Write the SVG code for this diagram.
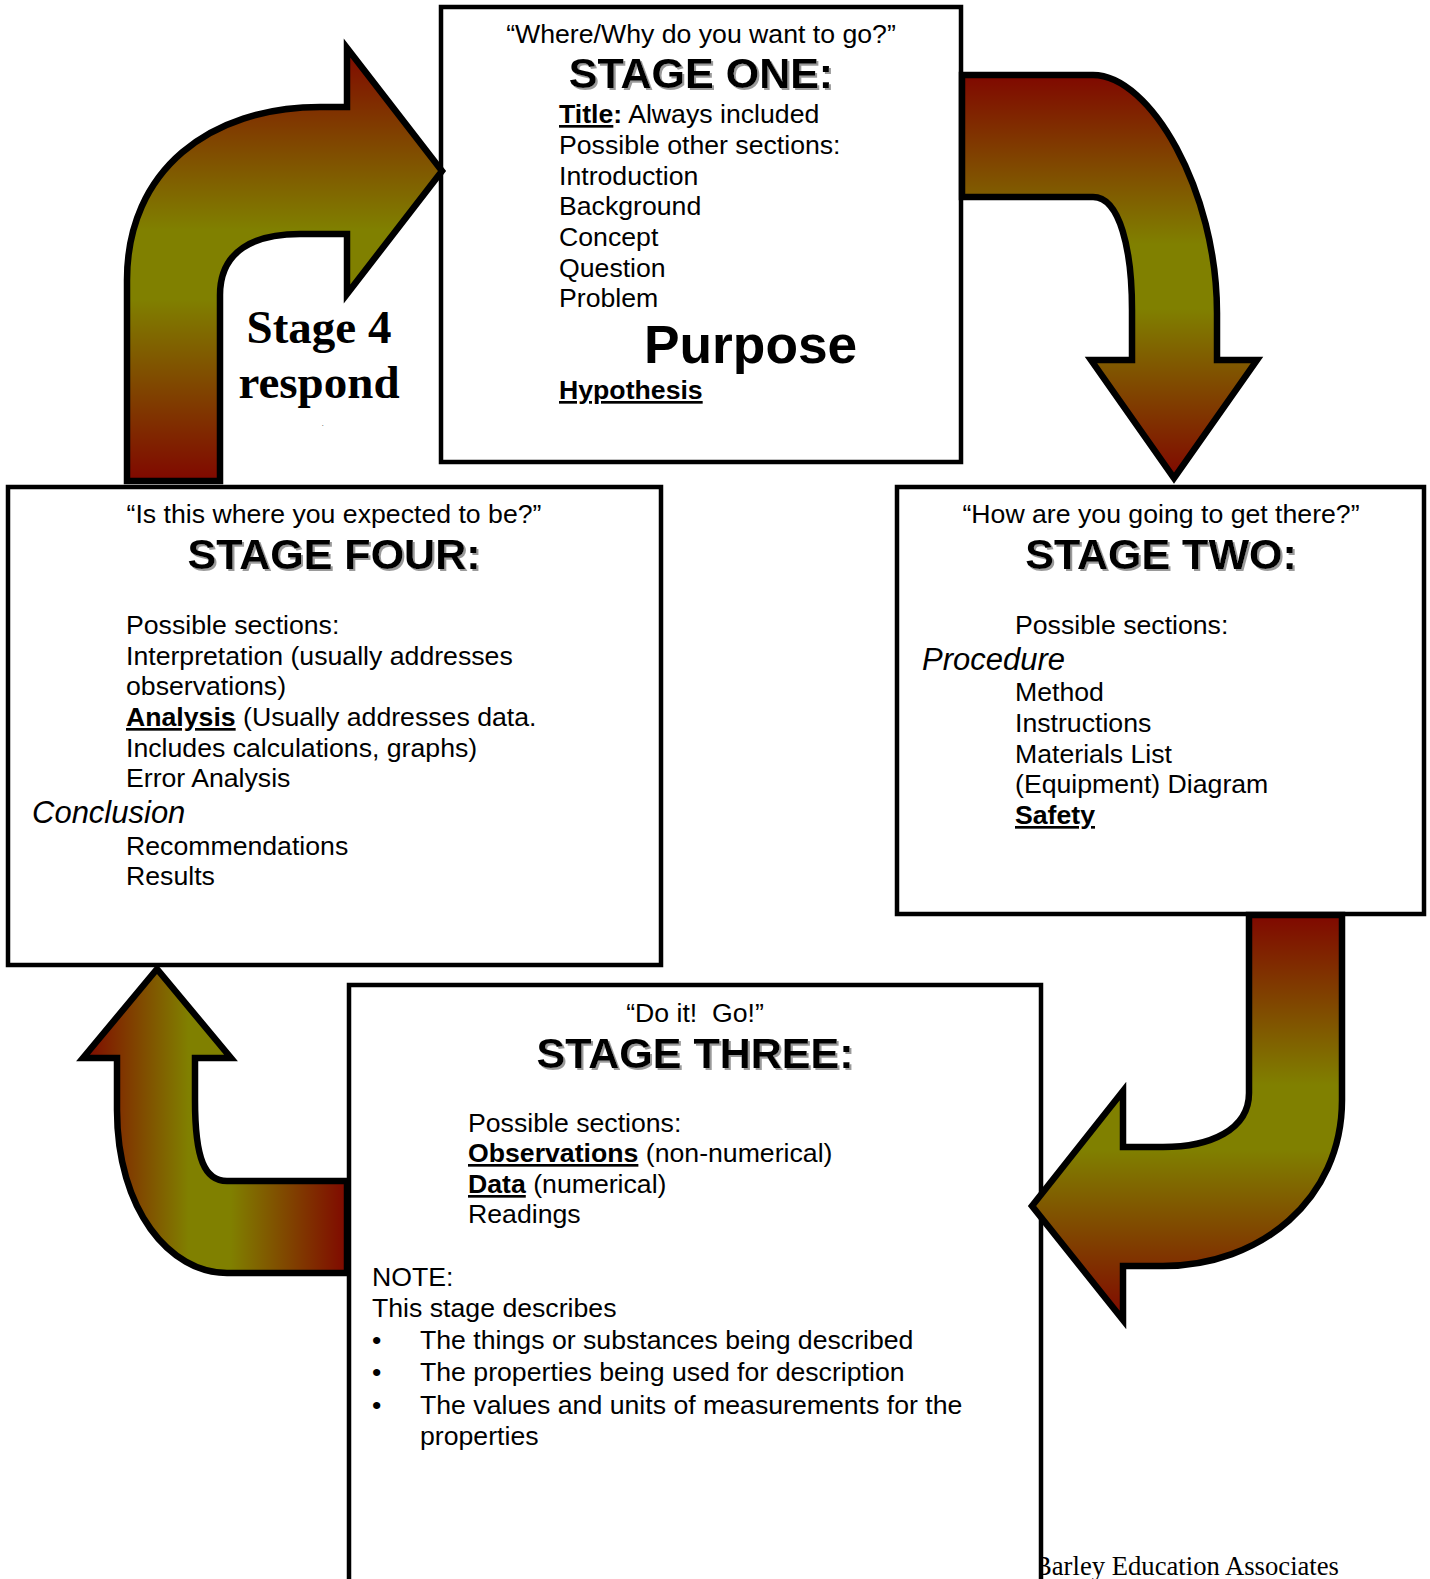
<svg xmlns="http://www.w3.org/2000/svg" width="1430" height="1579" viewBox="0 0 1430 1579">
  <defs>
    <linearGradient id="gradV" x1="0" y1="0" x2="0" y2="1">
      <stop offset="0" stop-color="#800800"/>
      <stop offset="0.42" stop-color="#808000"/>
      <stop offset="0.58" stop-color="#808000"/>
      <stop offset="1" stop-color="#800800"/>
    </linearGradient>
    <linearGradient id="gradH" x1="0" y1="0" x2="1" y2="0">
      <stop offset="0" stop-color="#800800"/>
      <stop offset="0.4" stop-color="#808000"/>
      <stop offset="0.56" stop-color="#808000"/>
      <stop offset="1" stop-color="#800800"/>
    </linearGradient>
    <filter id="shadow" x="-5%" y="-20%" width="115%" height="150%">
      <feDropShadow dx="2" dy="2" stdDeviation="0.6" flood-color="#9a9a9a" flood-opacity="1"/>
    </filter>
  </defs>
  <style>
    text { font-family: "Liberation Sans", Arial, sans-serif; fill: #000; }
    .body { font-size: 26.67px; }
    .title { font-size: 43px; font-weight: bold; text-anchor: middle; filter: url(#shadow); }
    .quote { font-size: 26.67px; text-anchor: middle; }
    .ital { font-size: 31px; font-style: italic; }
    .b { font-weight: bold; }
    .u { text-decoration: underline; }
    .box { fill: #fff; stroke: #000; stroke-width: 4.5; }
    .arrow { stroke: #000; stroke-width: 6.5; stroke-linejoin: miter; stroke-miterlimit: 10; }
    .serif { font-family: "Liberation Serif", "Times New Roman", serif; }
  </style>

  <rect width="1430" height="1579" fill="#fff"/>

  <!-- footer line of the page -->
  <text class="serif" x="1034" y="1575" font-size="26.67">Barley Education Associates</text>

  <!-- Stage one -->
  <g id="stage-one">
    <rect class="box" x="441" y="7" width="520" height="455"/>
    <text class="quote" x="701" y="43">“Where/Why do you want to go?”</text>
    <text class="title" x="701" y="88">STAGE ONE:</text>
    <text class="body" x="559" y="123"><tspan class="b u">Title</tspan><tspan class="b">:</tspan> Always included</text>
    <text class="body" x="559" y="154">Possible other sections:</text>
    <text class="body" x="559" y="185">Introduction</text>
    <text class="body" x="559" y="215">Background</text>
    <text class="body" x="559" y="246">Concept</text>
    <text class="body" x="559" y="277">Question</text>
    <text class="body" x="559" y="307">Problem</text>
    <text x="644" y="363" font-size="53.3" font-weight="bold">Purpose</text>
    <text class="body b u" x="559" y="399">Hypothesis</text>
  </g>

  <!-- Stage two -->
  <g id="stage-two">
    <rect class="box" x="897" y="487" width="527" height="427"/>
    <text class="quote" x="1161" y="523">“How are you going to get there?”</text>
    <text class="title" x="1161" y="569">STAGE TWO:</text>
    <text class="body" x="1015" y="634">Possible sections:</text>
    <text class="ital" x="922" y="670">Procedure</text>
    <text class="body" x="1015" y="701">Method</text>
    <text class="body" x="1015" y="732">Instructions</text>
    <text class="body" x="1015" y="763">Materials List</text>
    <text class="body" x="1015" y="793">(Equipment) Diagram</text>
    <text class="body b u" x="1015" y="824">Safety</text>
  </g>

  <!-- Stage four -->
  <g id="stage-four">
    <rect class="box" x="8" y="487" width="653" height="478"/>
    <text class="quote" x="334" y="523">“Is this where you expected to be?”</text>
    <text class="title" x="334" y="569">STAGE FOUR:</text>
    <text class="body" x="126" y="634">Possible sections:</text>
    <text class="body" x="126" y="665">Interpretation (usually addresses</text>
    <text class="body" x="126" y="695">observations)</text>
    <text class="body" x="126" y="726"><tspan class="b u">Analysis</tspan> (Usually addresses data.</text>
    <text class="body" x="126" y="757">Includes calculations, graphs)</text>
    <text class="body" x="126" y="787">Error Analysis</text>
    <text class="ital" x="32" y="823">Conclusion</text>
    <text class="body" x="126" y="855">Recommendations</text>
    <text class="body" x="126" y="885">Results</text>
  </g>

  <!-- Stage three -->
  <g id="stage-three">
    <rect class="box" x="349" y="985" width="692" height="700"/>
    <text class="quote" x="695" y="1022" xml:space="preserve">“Do it!  Go!”</text>
    <text class="title" x="695" y="1068">STAGE THREE:</text>
    <text class="body" x="468" y="1132">Possible sections:</text>
    <text class="body" x="468" y="1162"><tspan class="b u">Observations</tspan> (non-numerical)</text>
    <text class="body" x="468" y="1193"><tspan class="b u">Data</tspan> (numerical)</text>
    <text class="body" x="468" y="1223">Readings</text>
    <text class="body" x="372" y="1286">NOTE:</text>
    <text class="body" x="372" y="1317">This stage describes</text>
    <text class="body" x="372" y="1349">•</text>
    <text class="body" x="420" y="1349">The things or substances being described</text>
    <text class="body" x="372" y="1381">•</text>
    <text class="body" x="420" y="1381">The properties being used for description</text>
    <text class="body" x="372" y="1414">•</text>
    <text class="body" x="420" y="1414">The values and units of measurements for the</text>
    <text class="body" x="420" y="1445">properties</text>
  </g>

  <!-- Label beside the stage four arrow -->
  <g id="stage-four-label">
    <text class="serif" x="319" y="343" font-size="47" font-weight="bold" text-anchor="middle">Stage 4</text>
    <text class="serif" x="319" y="398" font-size="47" font-weight="bold" text-anchor="middle">respond</text>
    <text class="serif" x="322" y="426" font-size="6">.</text>
  </g>

  <!-- Curved block arrows linking the stages -->
  <g id="connectors">
    <!-- four -> one -->
    <path class="arrow" fill="url(#gradV)" d="M127,481 L127,280 C127,170 210,107 320,107 L347,107 L347,48 L442,171 L347,294 L347,234 L300,234 C255,234 220,250 220,295 L220,481 Z"/>
    <!-- one -> two -->
    <path class="arrow" fill="url(#gradV)" d="M962,75 L1093,75 C1150,75 1217,190 1217,313 L1217,360 L1257,360 L1174,478 L1091,360 L1132,360 L1132,310 C1132,250 1120,197 1093,197 L962,197 Z"/>
    <!-- two -> three -->
    <path class="arrow" fill="url(#gradV)" d="M1249,915 L1342,915 L1342,1100 C1342,1200 1260,1266 1163,1266 L1123,1266 L1123,1320 L1032,1206 L1123,1091 L1123,1147 L1163,1147 C1210,1147 1249,1130 1249,1093 Z"/>
    <!-- three -> four -->
    <path class="arrow" fill="url(#gradH)" d="M347,1181 L227,1181 C205,1181 195,1160 195,1100 L195,1058 L231,1058 L157,969 L83,1058 L117,1058 L117,1110 C117,1210 170,1273 227,1273 L347,1273 Z"/>
  </g>
</svg>
